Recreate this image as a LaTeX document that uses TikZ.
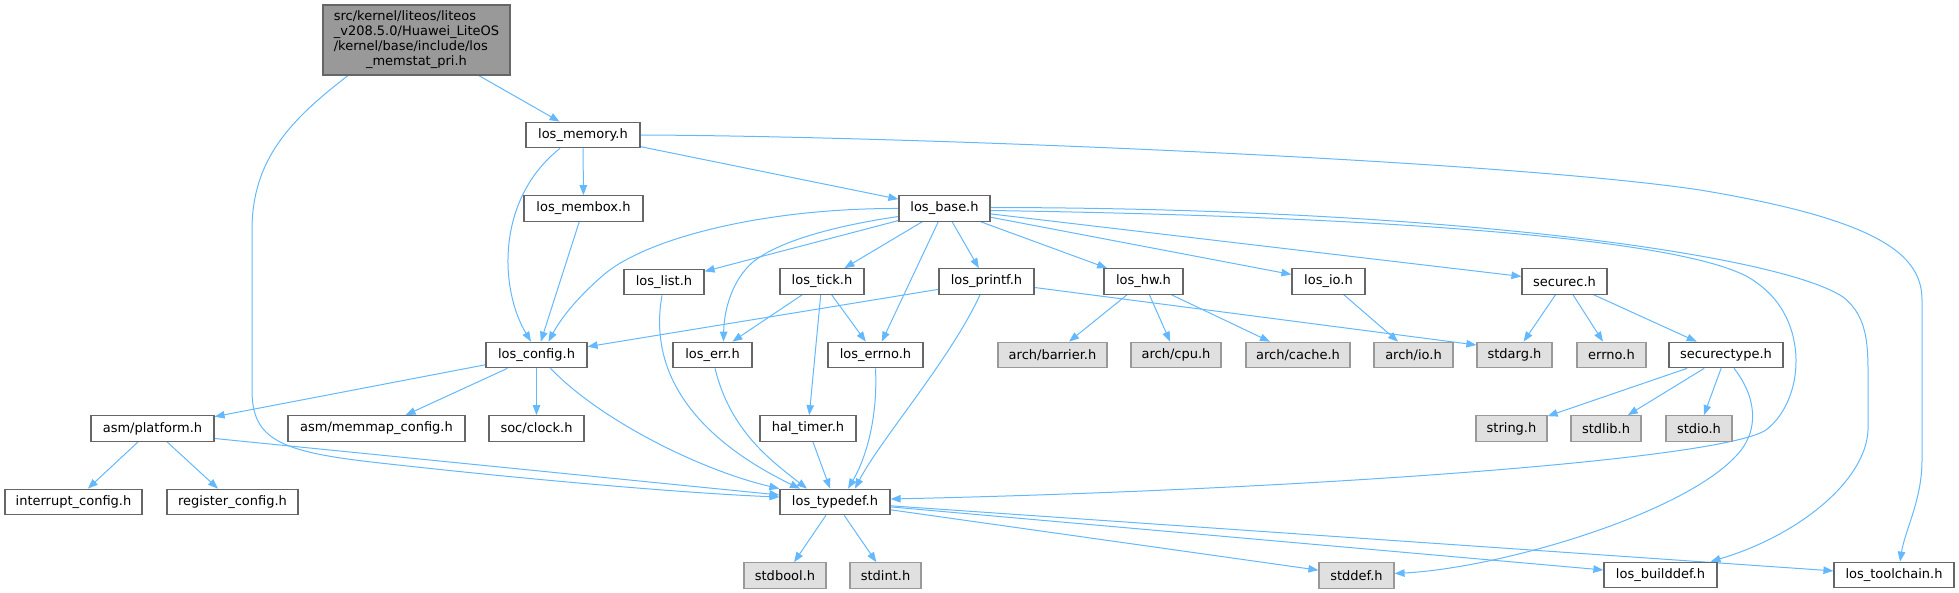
\documentclass[tikz,border=0pt]{standalone}
\usepackage{fontspec}
\setmainfont{DejaVu Sans}
\usetikzlibrary{arrows.meta}
\definecolor{bordG}{HTML}{666666}
\definecolor{bordL}{HTML}{999999}
\definecolor{fillE}{HTML}{E0E0E0}
\definecolor{fillR}{HTML}{999999}
\definecolor{eblue}{HTML}{63B8FF}
\pgfdeclarelayer{background}
\pgfsetlayers{background,main}
\tikzset{
  box/.style={draw=bordG, fill=white, line width=1.2pt, inner sep=0pt,
    minimum height=25.5pt, font=\fontsize{13}{15}\selectfont},
  ext/.style={box, draw=bordL, fill=fillE},
  rootbox/.style={box, fill=fillR, minimum width=187pt, minimum height=70pt},
  edge/.style={draw=eblue, line width=1pt, -{Triangle[length=10pt,width=7.5pt]}},
}
\begin{document}
\begin{tikzpicture}[x=1pt,y=-1pt]
\useasboundingbox (0,0) rectangle (1959,593);
% nodes
\node[rootbox] (root) at (416.5,40) {\fontsize{13}{14.8}\selectfont\begin{tabular}{@{}l@{}}src/kernel/liteos/liteos\\\_v208.5.0/Huawei\_LiteOS\\/kernel/base/include/los\\\multicolumn{1}{@{}c@{}}{\_memstat\_pri.h}\end{tabular}};
\node[box, minimum width=114pt] (memory) at (583,135) {los\_memory.h};
\node[box, minimum width=119pt] (membox) at (583.5,208.5) {los\_membox.h};
\node[box, minimum width=91pt] (base) at (944.5,208.5) {los\_base.h};
\node[box, minimum width=80pt] (list) at (664,282) {los\_list.h};
\node[box, minimum width=84pt] (tick) at (822,281.5) {los\_tick.h};
\node[box, minimum width=95pt] (printf) at (986.5,281.5) {los\_printf.h};
\node[box, minimum width=79pt] (hw) at (1143.5,281.5) {los\_hw.h};
\node[box, minimum width=73pt] (io) at (1328.5,281.5) {los\_io.h};
\node[box, minimum width=85pt] (securec) at (1564.5,281.5) {securec.h};
\node[box, minimum width=101pt] (config) at (536.5,355) {los\_config.h};
\node[box, minimum width=79pt] (err) at (712.5,355) {los\_err.h};
\node[box, minimum width=95pt] (errno) at (875.5,355) {los\_errno.h};
\node[ext, minimum width=109pt] (barrier) at (1052.5,355) {arch/barrier.h};
\node[ext, minimum width=90pt] (cpu) at (1176,355) {arch/cpu.h};
\node[ext, minimum width=104pt] (cache) at (1298,355) {arch/cache.h};
\node[ext, minimum width=79pt] (archio) at (1413.5,355) {arch/io.h};
\node[ext, minimum width=75pt] (stdarg) at (1514.5,355) {stdarg.h};
\node[ext, minimum width=69pt] (errnoh) at (1611.5,355) {errno.h};
\node[box, minimum width=114pt] (securectype) at (1726,355) {securectype.h};
\node[box, minimum width=123pt] (platform) at (152.5,428.5) {asm/platform.h};
\node[box, minimum width=177pt] (memmap) at (376.5,428.5) {asm/memmap\_config.h};
\node[box, minimum width=95pt] (clock) at (536.5,428.5) {soc/clock.h};
\node[box, minimum width=96pt] (haltimer) at (808,428.5) {hal\_timer.h};
\node[ext, minimum width=71pt] (string) at (1511.5,428.5) {string.h};
\node[ext, minimum width=70pt] (stdlib) at (1606,428.5) {stdlib.h};
\node[ext, minimum width=66pt] (stdio) at (1699,428.5) {stdio.h};
\node[box, minimum width=137pt] (interrupt) at (73.5,502) {interrupt\_config.h};
\node[box, minimum width=131pt] (register) at (232.5,502) {register\_config.h};
\node[box, minimum width=110pt] (typedef) at (835,502) {los\_typedef.h};
\node[ext, minimum width=82pt] (stdbool) at (785,575.5) {stdbool.h};
\node[ext, minimum width=71pt] (stdint) at (885.5,575.5) {stdint.h};
\node[ext, minimum width=75pt] (stddef) at (1356.5,575.5) {stddef.h};
\node[box, minimum width=113pt] (builddef) at (1660.5,575) {los\_builddef.h};
\node[box, minimum width=120pt] (toolchain) at (1894,575) {los\_toolchain.h};
% edges
\begin{pgfonlayer}{background}
\draw[edge] (root) -- (memory);
\draw[edge] ([xshift=-68.5pt]root.south) .. controls (290,120) and (252,160) .. (252,230) -- (252,390) .. controls (252,440) and (280,452) .. (380,463) .. controls (550,482) and (700,494) .. ([yshift=5pt]typedef.west);
\draw[edge] (memory) -- (membox);
\draw[edge] ([xshift=-23pt]memory.south) .. controls (495,200) and (500,290) .. ([xshift=-5.5pt]config.north);
\draw[edge] (memory) -- (base);
\draw[edge] (memory.east) .. controls (900,136) and (1500,160) .. (1700,190) .. controls (1880,220) and (1922,255) .. (1922,300) -- (1922,460) .. controls (1922,500) and (1905,530) .. ([xshift=6pt]toolchain.north);
\draw[edge] (membox) -- (config);
\draw[edge] (base) -- (list);
\draw[edge] (base) -- (tick);
\draw[edge] (base) -- (printf);
\draw[edge] (base) -- (hw);
\draw[edge] (base) -- (io);
\draw[edge] (base) -- (securec);
\draw[edge] (base) -- (errno);
\draw[edge] (base.west) .. controls (760,208) and (640,240) .. (600,278) .. controls (575,300) and (560,320) .. ([xshift=12pt]config.north);
\draw[edge] ([yshift=-8pt]base.west) .. controls (840,225) and (780,240) .. (753,262) .. controls (732,280) and (724,310) .. ([xshift=11pt]err.north);
\draw[edge] ([yshift=-2pt]base.east) .. controls (1350,216) and (1700,236) .. (1757,283) .. controls (1810,320) and (1805,400) .. (1766,430) .. controls (1720,460) and (1300,490) .. ([yshift=3pt]typedef.east);
\draw[edge] ([yshift=1pt]base.east) .. controls (1450,208) and (1780,255) .. (1843,297) .. controls (1870,318) and (1868,350) .. (1868,390) -- (1868,430) .. controls (1866,480) and (1800,535) .. ([xshift=50pt]builddef.north);
\draw[edge] ([xshift=-2pt]list.south) .. controls (645,390) and (720,450) .. ([xshift=-35pt]typedef.north);
\draw[edge] (tick) -- (err);
\draw[edge] (tick) -- (errno);
\draw[edge] (tick) -- (haltimer);
\draw[edge] (printf) -- (config);
\draw[edge] ([yshift=-6pt]printf.east) -- ([yshift=10pt]stdarg.west);
\draw[edge] ([xshift=-6.5pt]printf.south) .. controls (950,360) and (880,440) .. ([xshift=20pt]typedef.north);
\draw[edge] (hw) -- (barrier);
\draw[edge] (hw) -- (cpu);
\draw[edge] (hw) -- (cache);
\draw[edge] (io) -- (archio);
\draw[edge] (securec) -- (stdarg);
\draw[edge] (securec) -- (errnoh);
\draw[edge] (securec) -- (securectype);
\draw[edge] (securectype) -- (string);
\draw[edge] (securectype) -- (stdlib);
\draw[edge] (securectype) -- (stdio);
\draw[edge] ([xshift=8pt]securectype.south) .. controls (1755,395) and (1762,430) .. (1735,457) .. controls (1680,515) and (1500,568) .. ([yshift=2pt]stddef.east);
\draw[edge] (config) -- (platform);
\draw[edge] (config) -- (memmap);
\draw[edge] (config) -- (clock);
\draw[edge] ([xshift=14pt]config.south) .. controls (600,420) and (700,470) .. (typedef.north west);
\draw[edge] (platform) -- (interrupt);
\draw[edge] (platform) -- (register);
\draw[edge] ([yshift=-10pt]platform.east) -- ([yshift=7pt]typedef.west);
\draw[edge] ([xshift=2.5pt]err.south) .. controls (730,430) and (770,460) .. ([xshift=-28pt]typedef.north);
\draw[edge] (errno.south) .. controls (878,420) and (865,460) .. ([xshift=13pt]typedef.north);
\draw[edge] (haltimer) -- (typedef);
\draw[edge] (typedef) -- (stdbool);
\draw[edge] (typedef) -- (stdint);
\draw[edge] (typedef) -- (stddef);
\draw[edge] (typedef) -- (builddef);
\draw[edge] (typedef) -- (toolchain);
\end{pgfonlayer}
\end{tikzpicture}
\end{document}
